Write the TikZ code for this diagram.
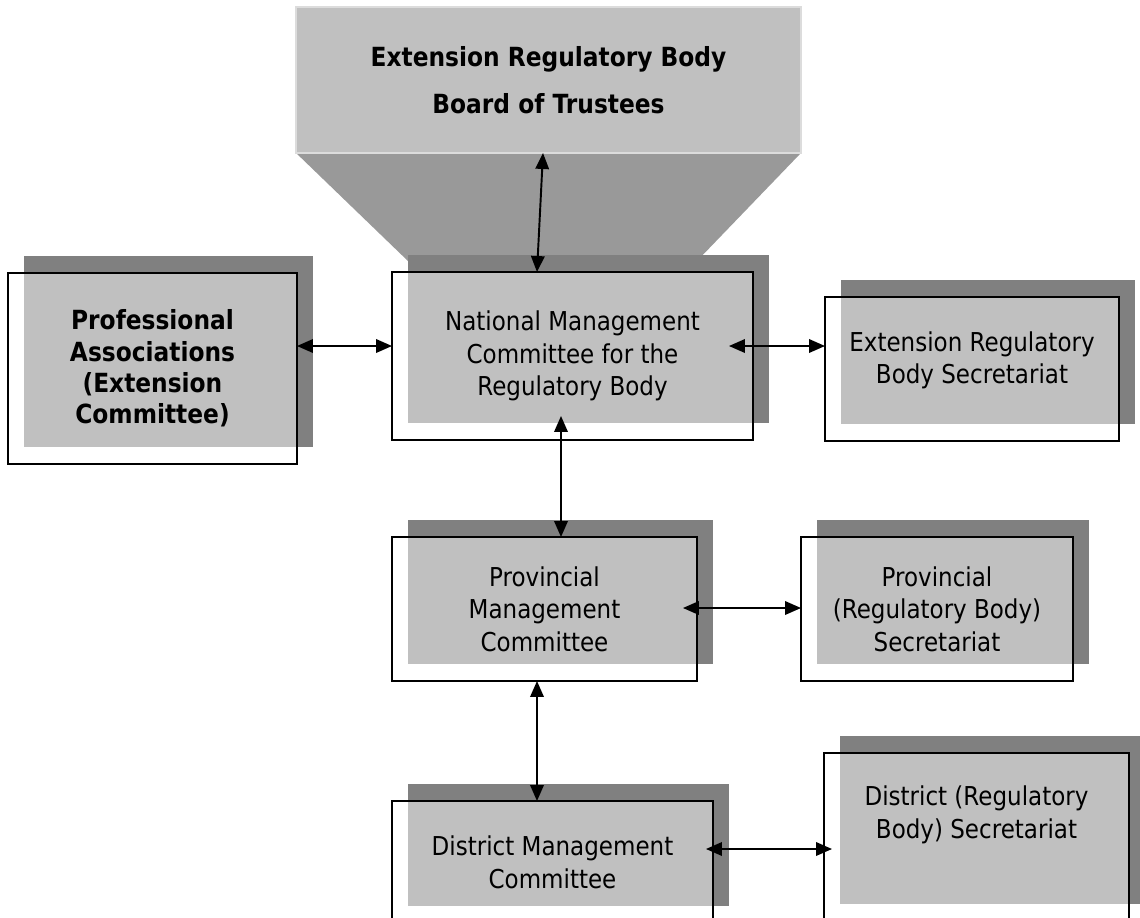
\documentclass[tikz,border=0pt]{standalone}
\usepackage{fontspec}
\setmainfont{DejaVu Sans}[FakeStretch=0.885]
\usetikzlibrary{arrows.meta,positioning,calc,backgrounds}
\definecolor{cardgray}{HTML}{C0C0C0}
\definecolor{shadegray}{HTML}{808080}
\definecolor{funnelgray}{HTML}{999999}
\definecolor{bevelgray}{HTML}{DCDCDC}

\begin{document}
\begin{tikzpicture}[x=0.02cm, y=-0.02cm,
    box/.style={rectangle, draw=black, line width=1.1pt, outer sep=0pt, inner sep=0pt, align=center, font=\fontsize{14.8}{18.6}\selectfont},
    boldbox/.style={box, font=\bfseries\fontsize{15}{17.8}\selectfont},
    trustbox/.style={rectangle, fill=cardgray, draw=bevelgray, line width=1.4pt, outer sep=0pt, minimum width=10.1cm, minimum height=2.92cm, align=center, font=\bfseries\fontsize{15}{26.7}\selectfont},
    arrow/.style={{Triangle[length=0.32cm,width=0.27cm]}-{Triangle[length=0.32cm,width=0.27cm]}, line width=1.1pt}
]
    \useasboundingbox (0,0) rectangle (1140,917);

    \node (board) [trustbox] at (548.5,80) {Extension Regulatory Body\\Board of Trustees};
    \node (assoc) [boldbox, minimum width=5.78cm, minimum height=3.82cm] at (152.5,368.5) {Professional\\Associations\\(Extension\\Committee)};
    \node (natl) [box, minimum width=7.22cm, minimum height=3.36cm] at (572.5,356) {National Management\\Committee for the\\Regulatory Body};
    \node (extsec) [box, minimum width=5.88cm, minimum height=2.88cm, text depth=0.45cm] at (972,369) {Extension Regulatory\\Body Secretariat};
    \node (prov) [box, minimum width=6.10cm, minimum height=2.88cm] at (544.5,609) {Provincial\\Management\\Committee};
    \node (provsec) [box, minimum width=5.44cm, minimum height=2.88cm] at (937,609) {Provincial\\(Regulatory Body)\\Secretariat};
    \node (dist) [box, minimum width=6.42cm, minimum height=2.44cm] at (552.5,862) {District Management\\Committee};
    \node (distsec) [box, minimum width=6.10cm, minimum height=3.36cm, text depth=1.0cm] at (976.5,837) {District (Regulatory\\Body) Secretariat};

    \begin{scope}[on background layer]
        \fill [funnelgray] (board.south west) -- (board.south east) -- (696,262) -- (409,262) -- cycle;
        \foreach \n in {assoc,natl,extsec,prov,provsec,dist,distsec} {
            \fill [shadegray] ($(\n.south west)+(16,-17)$) rectangle ($(\n.north east)+(16,-17)$);
            \fill [cardgray] ($(\n.south west)+(16,-17)$) rectangle (\n.north east);
        }
    \end{scope}

    \draw [arrow] ($(board.south)+(-5.5,0)$) -- ($(natl.north)+(-35.5,0)$);
    \draw [arrow] ($(assoc.east)+(0,-22.5)$) -- ($(natl.west)+(0,-10)$);
    \draw [arrow] ($(natl.east)+(-24,-10)$) -- ($(extsec.west)+(0,-23)$);
    \draw [arrow] ($(natl.south)+(-11.5,-24)$) -- ($(prov.north)+(16.5,0)$);
    \draw [arrow] ($(prov.east)+(-14,-1)$) -- ($(provsec.west)+(0,-1)$);
    \draw [arrow] ($(prov.south)+(-7.5,0)$) -- ($(dist.north)+(-15.5,0)$);
    \draw [arrow] ($(dist.east)+(-7,-13)$) -- ($(distsec.west)+(8,12)$);
\end{tikzpicture}
\end{document}
